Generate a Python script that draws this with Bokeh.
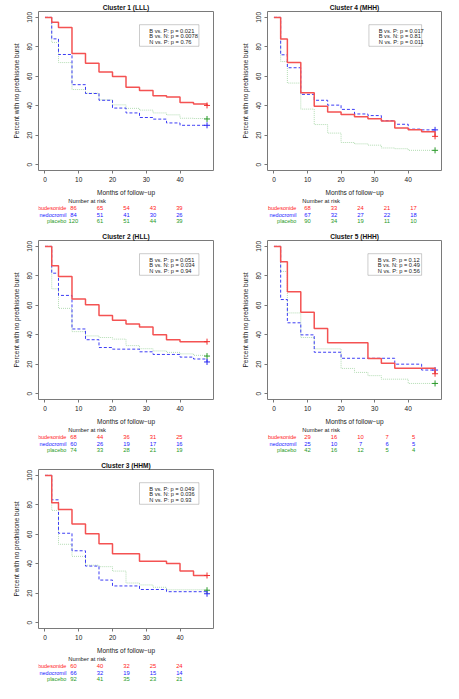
from bokeh.plotting import figure
from bokeh.layouts import column, row
from bokeh.models import Label, ColumnDataSource, BoxAnnotation, FixedTicker, Range1d
from bokeh.core.properties import value
from bokeh.embed import file_html
from bokeh.resources import INLINE

# ---------------- data ----------------
months = [0, 2, 4, 8, 12, 16, 20, 24, 28, 32, 36, 40, 44, 48]
risk_times = [0, 10, 20, 30, 40]
groups = ["budesonide", "nedocromil", "placebo"]
x_ticks = [0, 10, 20, 30, 40]
y_ticks = [0, 20, 40, 60, 80, 100]

c1_title = "Cluster 1 (LLL)"
c1_bud = [100, 96.7, 93.2, 75.5, 68.9, 62.9, 59.8, 52.5, 50.3, 46.8, 45.9, 42.2, 41.1, 40.2]
c1_ned = [100, 85.4, 74.8, 54.3, 48.3, 43.7, 38.4, 35.1, 32.0, 30.9, 28.3, 26.7, 26.7, 26.7]
c1_pla = [100, 83.0, 69.3, 51.0, 48.5, 44.0, 40.6, 38.2, 37.0, 35.1, 33.8, 31.5, 31.3, 31.0]
c1_risk_bud = [86, 65, 54, 43, 39]
c1_risk_ned = [84, 51, 41, 30, 26]
c1_risk_pla = [120, 61, 51, 44, 39]
c1_p = ["0.021", "0.0078", "0.76"]

c4_title = "Cluster 4 (MHH)"
c4_bud = [100, 85.4, 69.3, 48.8, 39.7, 35.8, 34.0, 32.5, 31.1, 29.6, 24.9, 23.6, 22.3, 19.2]
c4_ned = [100, 74.6, 65.8, 47.7, 43.7, 40.4, 37.5, 34.4, 33.3, 29.8, 27.4, 24.1, 23.6, 23.6]
c4_pla = [100, 70.0, 55.4, 37.7, 27.2, 21.4, 15.0, 14.1, 13.2, 11.3, 10.8, 9.7, 9.7, 9.7]
c4_risk_bud = [68, 33, 24, 21, 17]
c4_risk_ned = [67, 32, 27, 22, 18]
c4_risk_pla = [90, 34, 19, 11, 10]
c4_p = ["0.017", "0.81", "0.011"]

c2_title = "Cluster 2 (HLL)"
c2_bud = [100, 86.9, 79.6, 64.3, 60.3, 53.0, 49.9, 47.2, 45.2, 39.9, 36.6, 35.3, 35.3, 35.3]
c2_ned = [100, 81.8, 66.7, 43.9, 36.6, 31.3, 30.2, 30.2, 28.4, 26.6, 26.6, 24.8, 23.5, 21.5]
c2_pla = [100, 71.2, 57.9, 42.1, 39.2, 38.1, 37.0, 32.6, 30.5, 29.0, 28.0, 27.0, 26.0, 25.5]
c2_risk_bud = [68, 44, 36, 31, 25]
c2_risk_ned = [60, 26, 19, 17, 16]
c2_risk_pla = [74, 33, 28, 21, 19]
c2_p = ["0.051", "0.034", "0.94"]

c5_title = "Cluster 5 (HHH)"
c5_bud = [100, 89.6, 69.2, 55.2, 44.3, 34.6, 34.6, 34.6, 23.9, 20.6, 17.3, 17.3, 17.3, 13.5]
c5_ned = [100, 63.9, 48.1, 39.9, 28.1, 28.1, 24.0, 24.0, 24.0, 24.0, 20.0, 20.0, 16.0, 16.0]
c5_pla = [100, 83.0, 54.8, 38.1, 30.4, 30.4, 17.1, 14.4, 12.2, 9.8, 9.8, 6.9, 6.9, 6.9]
c5_risk_bud = [29, 16, 10, 7, 5]
c5_risk_ned = [25, 10, 7, 6, 5]
c5_risk_pla = [42, 16, 12, 5, 4]
c5_p = ["0.12", "0.49", "0.56"]

c3_title = "Cluster 3 (HHM)"
c3_bud = [100, 81.5, 76.8, 66.9, 60.3, 53.6, 46.8, 46.8, 41.7, 41.7, 40.2, 35.1, 32.0, 32.0]
c3_ned = [100, 83.4, 60.7, 48.8, 38.4, 28.9, 24.9, 24.9, 22.5, 22.5, 21.0, 21.0, 21.0, 19.6]
c3_pla = [100, 76.2, 53.2, 45.0, 39.0, 38.0, 35.0, 26.9, 25.6, 24.0, 22.3, 22.3, 22.3, 22.0]
c3_risk_bud = [60, 40, 32, 25, 24]
c3_risk_ned = [66, 32, 19, 15, 14]
c3_risk_pla = [92, 41, 35, 23, 21]
c3_p = ["0.049", "0.036", "0.93"]

# ---------------- styling ----------------
FONT = "Liberation Sans"
LINE_COLORS = ["#f45252", "#3d3df5", "#b3dcb3"]
MARK_COLORS = ["#f03030", "#2a2af0", "#2a9a2a"]
TEXT_COLORS = ["#ff1a1a", "#2020ff", "#1f9a1f"]
DASHES = ["solid", "3 2", "1 1"]
WIDTHS = [1.5, 1.0, 1.0]
X0, X1 = -1.92, 49.92
Y0, Y1 = -4.0, 104.0
MAIN_BOTTOM = 27


def make_panel(title, curves, risks, pvals, width, height, left, right, top, bottom,
               box_x, label_right_px):
    fw = width - left - right
    fh = height - top - bottom
    xs = fw / (X1 - X0)
    ys = fh / (Y1 - Y0)

    def dx(px):
        return X0 + px / xs

    def dy(py):
        return Y1 - py / ys

    main_h = top + fh + MAIN_BOTTOM
    p = figure(width=width, height=main_h, output_backend="svg", toolbar_location=None,
               x_range=Range1d(X0, X1), y_range=Range1d(Y0, Y1),
               min_border_left=left, min_border_right=right,
               min_border_top=top, min_border_bottom=MAIN_BOTTOM)

    p.background_fill_color = "white"
    p.border_fill_color = "white"
    p.outline_line_color = "#7a7a7a"
    p.outline_line_width = 1
    p.xgrid.visible = False
    p.ygrid.visible = False

    p.title.text = title
    p.title.align = "center"
    p.title.text_font = FONT
    p.title.text_font_size = "6.6px"
    p.title.text_font_style = "bold"
    p.title.text_color = "#111"
    p.title.standoff = 2
    p.title.offset = 0

    for ax in (p.xaxis[0], p.yaxis[0]):
        ax.axis_line_color = None
        ax.major_tick_line_color = "#777"
        ax.major_tick_out = 3
        ax.major_tick_in = 0
        ax.minor_tick_line_color = None
        ax.major_label_text_font = FONT
        ax.major_label_text_font_size = "6.5px"
        ax.major_label_text_color = "#222"
        ax.axis_label_text_font = FONT
        ax.axis_label_text_font_size = "6.5px"
        ax.axis_label_text_font_style = "normal"
        ax.axis_label_text_color = "#222"
        ax.major_label_standoff = 3
    p.xaxis.ticker = FixedTicker(ticks=x_ticks)
    p.yaxis.ticker = FixedTicker(ticks=y_ticks)
    p.yaxis.major_label_orientation = "vertical"
    p.xaxis.axis_label = "Months of follow\u2212up"
    p.yaxis.axis_label = "Percent with no prednisone burst"
    p.xaxis.axis_label_standoff = 4
    p.yaxis.axis_label_standoff = 5

    # survival curves, placebo first so budesonide is on top
    for i in (2, 1, 0):
        p.step(months, curves[i], mode="after", line_color=LINE_COLORS[i],
               line_width=WIDTHS[i], line_dash=DASHES[i])
        p.scatter([months[-1]], [curves[i][-1]], marker="cross", size=6,
                  line_color=MARK_COLORS[i], line_width=1)

    # p-value box
    bl, br = box_x
    p.add_layout(BoxAnnotation(left=bl, right=br, top=dy(13.3), bottom=dy(35.0),
                               fill_color="white", fill_alpha=1.0,
                               line_color="#555", line_width=1))
    names = ["B vs. P: p = ", "B vs. N: p = ", "N vs. P: p = "]
    for k, (nm, pv) in enumerate(zip(names, pvals)):
        p.add_layout(Label(x=dx((bl - X0) * xs + 9.8), y=dy(19.4 + 5.4 * k), text=nm + pv,
                           text_font=FONT, text_font_size="5.7px", text_color="#222",
                           text_align="left", text_baseline="middle"))

    # number at risk table: a second figure sharing the same horizontal scale
    tab_h = height - main_h
    t = figure(width=width, height=tab_h, output_backend="svg", toolbar_location=None,
               x_range=Range1d(X0 - left / xs, X1 + right / xs),
               y_range=Range1d(tab_h, 0),
               min_border_left=0, min_border_right=0, min_border_top=0, min_border_bottom=0)
    t.axis.visible = False
    t.grid.visible = False
    t.outline_line_color = None
    t.background_fill_color = "white"
    t.border_fill_color = "white"
    off = MAIN_BOTTOM
    t.text(x=[X0], y=[29.8 - off], text=["Number at risk"], text_font=value(FONT),
           text_font_size="5.8px", text_color="#222", text_align="left",
           text_baseline="middle")
    for i, g in enumerate(groups):
        yy = 36.4 + 6.65 * i - off
        t.text(x=[dx(label_right_px)], y=[yy], text=[g], text_font=value(FONT),
               text_font_size="5.5px", text_color=TEXT_COLORS[i], text_align="right",
               text_baseline="middle")
        src = ColumnDataSource(dict(x=risk_times, y=[yy] * len(risk_times),
                                    t=[str(v) for v in risks[i]]))
        t.text(x="x", y="y", text="t", source=src, text_font=value(FONT),
               text_font_size="5.8px", text_color=TEXT_COLORS[i], text_align="center",
               text_baseline="middle")
    return column(p, t)


p1 = make_panel(c1_title, [c1_bud, c1_ned, c1_pla], [c1_risk_bud, c1_risk_ned, c1_risk_pla], c1_p,
                223, 226, 38, 10, 11, 55, (28.0, 45.6), -2.5)
p4 = make_panel(c4_title, [c4_bud, c4_ned, c4_pla], [c4_risk_bud, c4_risk_ned, c4_risk_pla], c4_p,
                220, 226, 44, 2, 11, 55, (28.3, 44.0), -7.5)
p2 = make_panel(c2_title, [c2_bud, c2_ned, c2_pla], [c2_risk_bud, c2_risk_ned, c2_risk_pla], c2_p,
                223, 227, 38, 10, 14, 53, (28.0, 45.6), -2.5)
p5 = make_panel(c5_title, [c5_bud, c5_ned, c5_pla], [c5_risk_bud, c5_risk_ned, c5_risk_pla], c5_p,
                220, 227, 44, 2, 14, 53, (28.0, 44.0), -7.5)
p3 = make_panel(c3_title, [c3_bud, c3_ned, c3_pla], [c3_risk_bud, c3_risk_ned, c3_risk_pla], c3_p,
                223, 230, 38, 10, 16, 54, (28.0, 45.6), -2.5)

layout = column(row(p1, p4), row(p2, p5), p3)
open("out.html", "w").write(file_html(layout, INLINE))
